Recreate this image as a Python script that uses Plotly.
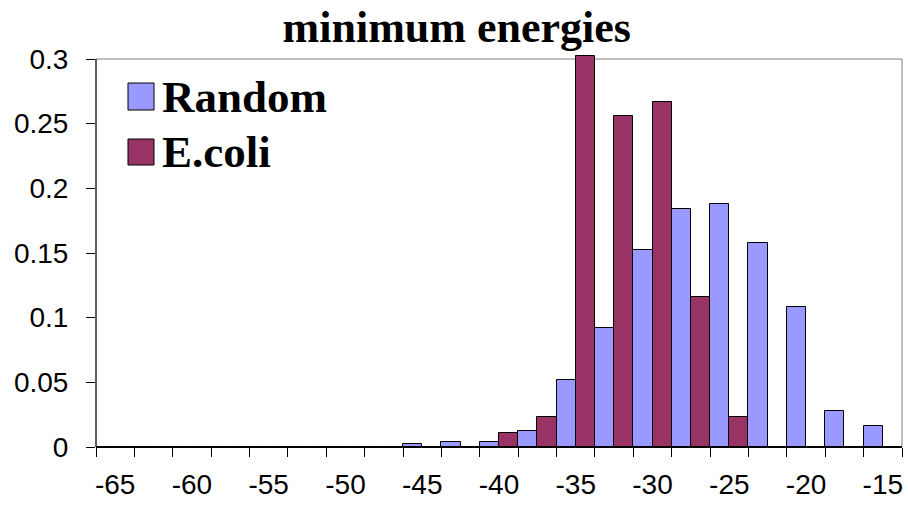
import plotly.graph_objects as go

energies = [-65, -62.5, -60, -57.5, -55, -52.5, -50, -47.5, -45, -42.5, -40,
            -37.5, -35, -32.5, -30, -27.5, -25, -22.5, -20, -17.5, -15]
random_vals = [0, 0, 0, 0, 0, 0, 0, 0, 0.002, 0.004, 0.004,
               0.012, 0.052, 0.092, 0.152, 0.184, 0.188, 0.158, 0.108, 0.028, 0.016]
ecoli_vals = [0, 0, 0, 0, 0, 0, 0, 0, 0, 0, 0.011,
              0.023, 0.302, 0.256, 0.267, 0.116, 0.023, 0, 0, 0, 0]
x_ticks = [-65, -60, -55, -50, -45, -40, -35, -30, -25, -20, -15]
y_ticks = [0, 0.05, 0.1, 0.15, 0.2, 0.25, 0.3]
y_ticktext = ["0", "0.05", "0.1", "0.15", "0.2", "0.25", "0.3"]

RANDOM_C = "#9999FF"
ECOLI_C = "#993366"

W, H = 908, 507
L, R, T, B = 96, 6, 55, 60
pw, ph = W - L - R, H - T - B
Y_TOP = 0.3 * ph / 388.0  # leave a few px above 0.3 so the tallest bar pokes over the frame

def px(x):
    return (x - L) / pw

def py(y):
    return (H - B - y) / ph

fig = go.Figure()
fig.add_trace(go.Bar(x=energies, y=random_vals, name="Random",
                     marker=dict(color=RANDOM_C, line=dict(color="black", width=1))))
fig.add_trace(go.Bar(x=energies, y=ecoli_vals, name="E.coli",
                     marker=dict(color=ECOLI_C, line=dict(color="black", width=1))))

tick_font = dict(family="Liberation Sans, Arial, sans-serif", size=28, color="black")
serif_bold = dict(family="Liberation Serif, Times New Roman, serif", color="black", weight="bold")

fig.update_layout(
    width=W, height=H,
    margin=dict(l=L, r=R, t=T, b=B, pad=0),
    paper_bgcolor="white", plot_bgcolor="white",
    barmode="group", bargap=0, bargroupgap=0,
    showlegend=False,
    title=dict(text="minimum energies", x=0.503, xanchor="center", y=1 - 27 / H, yanchor="middle",
               font=dict(size=44, **serif_bold)),
    xaxis=dict(range=[-66.25, -13.75], tickmode="array", tickvals=x_ticks,
               ticktext=[str(v) for v in x_ticks], ticks="", showgrid=False, zeroline=False,
               showline=True, linecolor="black", linewidth=1, tickfont=tick_font,
               ticklabelstandoff=12,
               minor=dict(tick0=-66.25, dtick=2.5, ticks="outside", ticklen=9,
                          tickcolor="black", tickwidth=1, showgrid=False)),
    yaxis=dict(range=[0, Y_TOP], tickmode="array", tickvals=y_ticks, ticktext=y_ticktext,
               ticks="outside", ticklen=9, tickcolor="black", showgrid=False, zeroline=False,
               showline=False, tickfont=tick_font, ticklabelstandoff=12),
)

# plot-area frame (grey, Excel style) up to 0.3
fig.add_shape(type="rect", xref="paper", yref="y", x0=0, x1=1, y0=0, y1=0.3,
              line=dict(color="#808080", width=1), layer="below")
# black value axis line
fig.add_shape(type="line", xref="paper", yref="y", x0=0, x1=0, y0=0, y1=0.3,
              line=dict(color="black", width=1), layer="above")

# legend drawn manually with large swatches
legend_items = [("Random", RANDOM_C, 83, 110), ("E.coli", ECOLI_C, 139, 165)]
for name, col, y0, y1 in legend_items:
    fig.add_shape(type="rect", xref="paper", yref="paper",
                  x0=px(128), x1=px(154), y0=py(y1), y1=py(y0),
                  fillcolor=col, line=dict(color="black", width=1))
    fig.add_annotation(text=name, xref="paper", yref="paper", x=px(160), y=py((y0 + y1) / 2),
                       xanchor="left", yanchor="middle", showarrow=False,
                       font=dict(size=45, **serif_bold))

fig.write_html("out.html")
